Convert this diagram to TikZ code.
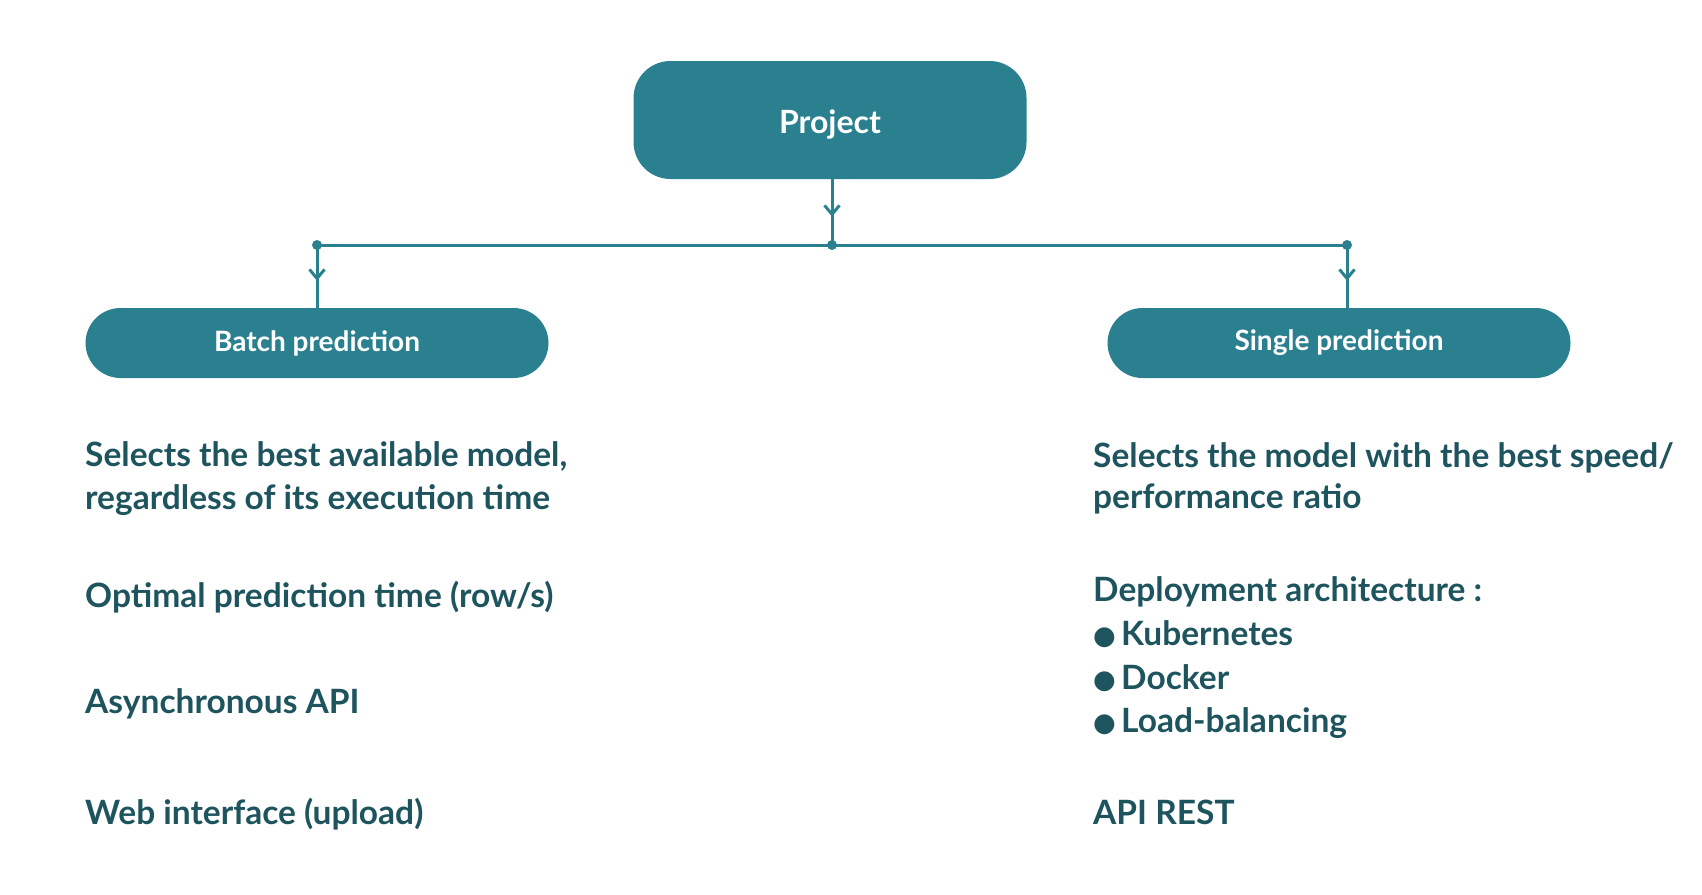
\documentclass[tikz,border=0pt]{standalone}
\usepackage{fontspec}
\setmainfont{Lato}
\newfontfamily\symfont{DejaVu Sans}
\usetikzlibrary{arrows.meta,decorations.markings}
\definecolor{boxteal}{RGB}{43,128,143}
\definecolor{textteal}{RGB}{30,84,94}
\begin{document}
\begin{tikzpicture}[x=1pt, y=-1pt,
						head/.style={fill=boxteal, rounded corners=37pt, minimum width=393pt, minimum height=118pt, text height=26pt, text depth=0pt, text=white, font=\fontsize{32}{38}\selectfont\bfseries},
						branch/.style={fill=boxteal, rounded corners=35pt, minimum width=463pt, minimum height=70pt, text=white, font=\fontsize{28}{34}\selectfont\bfseries},
						txt/.style={anchor=base west, inner sep=0pt, align=left, text=textteal, font=\fontsize{33.5}{43}\selectfont\bfseries},
						link/.style={draw=boxteal, line width=3pt},
						midarrow/.style={link, postaction={decorate}, decoration={markings, mark=at position 0.57 with {\arrow{Straight Barb[length=9pt, width=15pt, line width=3pt]}}}},
						dot/.style={circle, fill=boxteal, inner sep=0pt, minimum size=10pt},
						blt/.style={anchor=base west, inner sep=0pt, text=textteal, font=\symfont\fontsize{26}{26}\selectfont},
					]
					\useasboundingbox (0,0) rectangle (1702,894);

					\node[head] (project) at (830,120) {Project};
					\node[branch] (batch) at (317,343) {Batch prediction};
					\node[branch] (single) at (1339,343) {Single prediction};

					\node[dot] (hub) at (832,245) {};
					\node[dot] (hubL) at (317,245) {};
					\node[dot] (hubR) at (1347,245) {};

					\draw[midarrow] (project.south -| hub) -- (hub.center);
					\draw[link] (hubL.center) -- (hubR.center);
					\draw[midarrow] (hubL.center) -- (hubL |- batch.north);
					\draw[midarrow] (hubR.center) -- (hubR |- single.north);

					% batch column
					\node[txt] (b1) at (85,509) {Selects the best available model,\\regardless of its execution time};
					\node[txt] (b2) at (85,607) {Optimal prediction time (row/s)};
					\node[txt] (b3) at (85,713) {Asynchronous API};
					\node[txt] (b4) at (85,824) {Web interface (upload)};

					% single column
					\node[txt, font=\fontsize{33.5}{41}\selectfont\bfseries] (s1) at (1093,508) {Selects the model with the best speed/\\performance ratio};
					\node[txt] (s2) at (1093,601) {Deployment architecture :};
					\foreach \y/\name [count=\i] in {645/Kubernetes, 689/Docker, 732/Load-balancing}
						{ \node[blt] (bul\i) at (1093,\y-1) {●};
						  \node[txt] (item\i) at (1121,\y) {\name};}
					\node[txt] (s3) at (1093,824) {API REST};

				\end{tikzpicture}
\end{document}
